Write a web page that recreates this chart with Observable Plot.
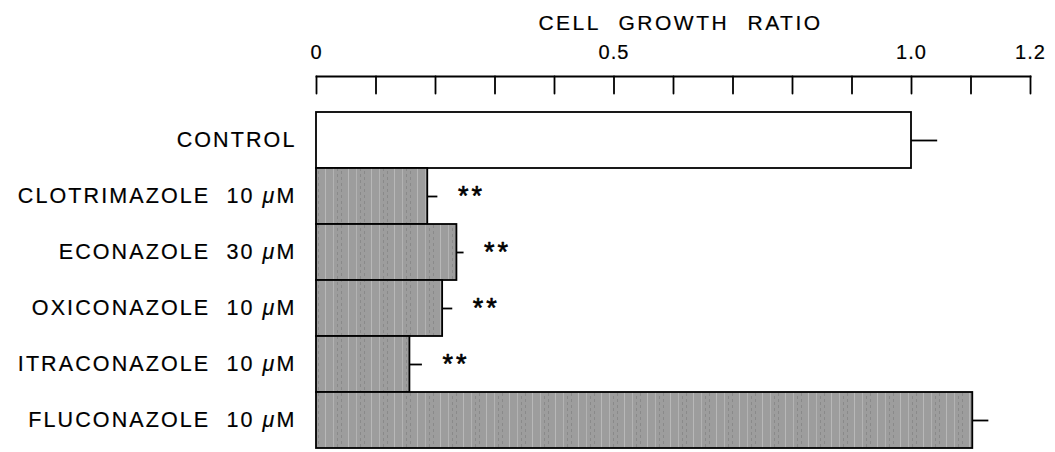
<!DOCTYPE html>
<html>
<head>
<meta charset="utf-8">
<script src="https://cdn.jsdelivr.net/npm/d3@7"></script>
<script src="https://cdn.jsdelivr.net/npm/@observablehq/plot@0.6"></script>
<style>
  html, body { margin: 0; padding: 0; background: #fff; }
  #chart svg { font-family: "Liberation Sans", Arial, Helvetica, sans-serif; }
</style>
</head>
<body>
<div id="chart"></div>
<script>
// ---- data ----
const categories = ["CONTROL", "CLOTRIMAZOLE  10 μM", "ECONAZOLE  30 μM", "OXICONAZOLE  10 μM", "ITRACONAZOLE  10 μM", "FLUCONAZOLE  10 μM"];
const ratios = [1.0, 0.187, 0.236, 0.212, 0.157, 1.103];
const errors = [0.044, 0.017, 0.012, 0.017, 0.021, 0.027];
const significance = ["", "**", "**", "**", "**", ""];
const tickValues = [0, 0.1, 0.2, 0.3, 0.4, 0.5, 0.6, 0.7, 0.8, 0.9, 1.0, 1.1, 1.2];
const tickLabelValues = [0, 0.5, 1.0, 1.2];
const tickLabels = ["0", "0.5", "1.0", "1.2"];
const axisTitle = "CELL GROWTH RATIO";

const rows = categories.map((c, i) => ({name: c, value: ratios[i], err: errors[i], sig: significance[i]}));

const lineShape = {draw(context, l) { context.moveTo(0, 0); context.lineTo(0, -l); }};

const plot = Plot.plot({
  width: 1055,
  height: 452,
  marginLeft: 316,
  marginRight: 25,
  marginTop: 76,
  marginBottom: 2,
  x: {domain: [0, 1.2], axis: null},
  y: {domain: categories, padding: 0, insetTop: 34, axis: null, label: null},
  color: {type: "identity"},
  marks: [
    Plot.barX(rows, {x: "value", y: "name", fill: d => d.name === "CONTROL" ? "white" : "url(#grayTex)", stroke: "black", strokeWidth: 1.8}),
    Plot.ruleY(rows, {y: "name", x1: "value", x2: d => d.value + d.err, stroke: "black", strokeWidth: 1.8}),
    Plot.text(rows.filter(d => d.sig), {y: "name", x: d => d.value + d.err, text: "sig", textAnchor: "start", dx: 20, dy: 0, fontSize: 27, fill: "black", stroke: "black", strokeWidth: 0.6, className: "stars"}),
    Plot.axisY({tickSize: 0, tickPadding: 20, fontSize: 21.5, label: null, className: "ylab"}),
    Plot.frame({anchor: "top", stroke: "black", strokeWidth: 1.8}),
    Plot.vector(tickValues, {x: d => d, frameAnchor: "top", length: 17, rotate: 180, anchor: "start", shape: lineShape, stroke: "black", strokeWidth: 1.8}),
    Plot.text(tickLabelValues, {x: d => d, frameAnchor: "top", dy: -32, text: (d, i) => tickLabels[i], fontSize: 20, fill: "black", className: "xlab"}),
    Plot.text([axisTitle], {frameAnchor: "top", dy: -61, dx: 7, text: d => d, fontSize: 21, fill: "black", className: "xtitle"})
  ]
});

// texture pattern for the gray bars
const ns = "http://www.w3.org/2000/svg";
const defs = document.createElementNS(ns, "defs");
defs.innerHTML = `<pattern id="grayTex" patternUnits="userSpaceOnUse" width="23" height="6">
  <rect width="23" height="6" fill="#9d9d9d"/>
  <rect x="3" width="1" height="6" fill="#b8b8b8"/>
  <rect x="11" width="1" height="6" fill="#b3b3b3"/>
  <rect x="15" y="0" width="1" height="3" fill="#8a8a8a"/>
  <rect x="19" y="3" width="1" height="3" fill="#8a8a8a"/>
</pattern>`;
plot.insertBefore(defs, plot.firstChild);

const heavy = t => { t.setAttribute("stroke", "black"); t.setAttribute("stroke-width", "0.2"); };

// style texts: letter spacing and italic mu
plot.querySelectorAll(".ylab text").forEach(t => {
  t.setAttribute("letter-spacing", "2.1");
  t.setAttribute("xml:space", "preserve");
  t.style.whiteSpace = "pre";
  heavy(t);
  const s = t.textContent;
  const k = s.indexOf("μ");
  if (k >= 0) {
    t.textContent = "";
    const a = document.createElementNS(ns, "tspan"); a.textContent = s.slice(0, k);
    const m = document.createElementNS(ns, "tspan"); m.textContent = "μ"; m.setAttribute("font-style", "italic");
    const b = document.createElementNS(ns, "tspan"); b.textContent = s.slice(k + 1);
    t.append(a, m, b);
  }
});
plot.querySelectorAll(".stars text").forEach(t => t.setAttribute("letter-spacing", "3"));
plot.querySelectorAll(".xlab text").forEach(t => { t.setAttribute("letter-spacing", "1"); heavy(t); });
plot.querySelectorAll(".xtitle text").forEach(t => { t.setAttribute("letter-spacing", "2.5"); t.setAttribute("word-spacing", "10"); heavy(t); });

document.getElementById("chart").appendChild(plot);
</script>
</body>
</html>
